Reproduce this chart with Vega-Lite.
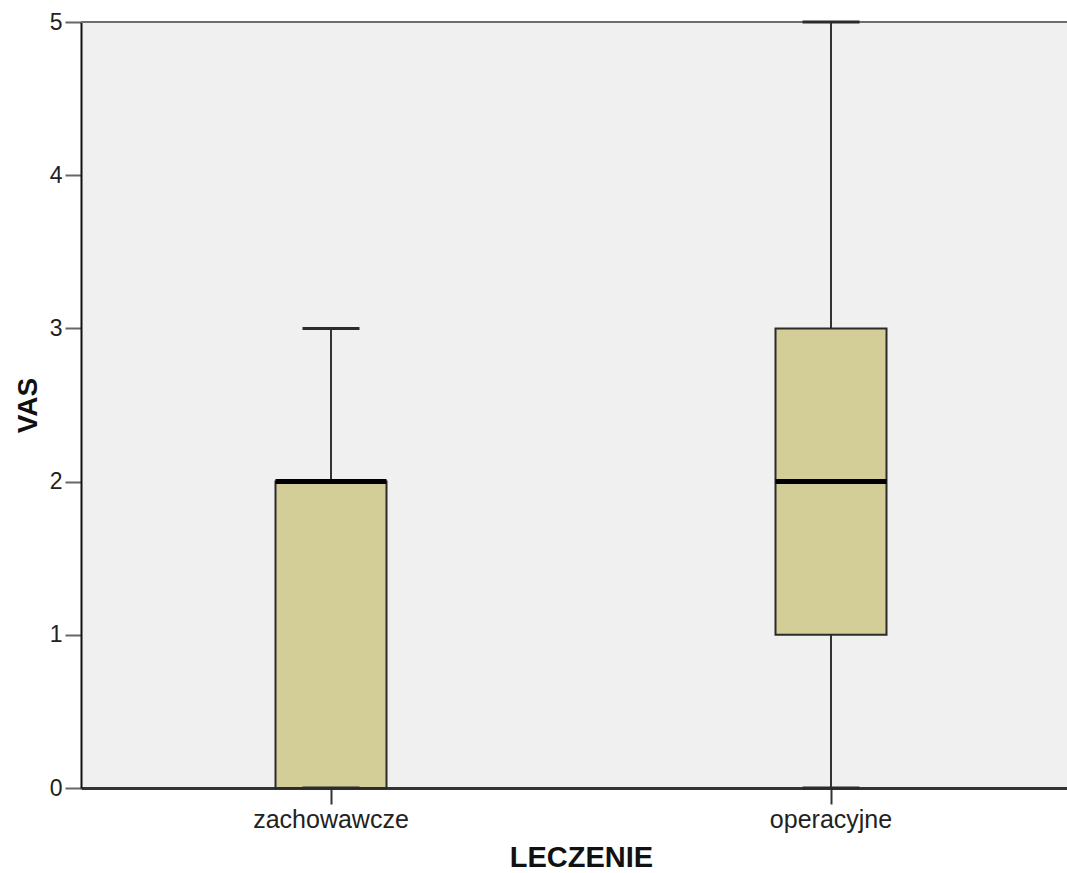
{
  "$schema": "https://vega.github.io/schema/vega-lite/v6.json",
  "autosize": {"type": "none"},
  "padding": {"left": 81, "top": 22, "right": 0, "bottom": 85},
  "width": 986,
  "height": 766,
  "background": "#ffffff",
  "config": {
    "view": {"fill": "#f0f0f0", "stroke": null},
    "font": "Liberation Sans"
  },
  "data": {
    "values": [
      {"LECZENIE": "zachowawcze", "min": 0, "q1": 0, "median": 2, "q3": 2, "max": 3},
      {"LECZENIE": "operacyjne", "min": 0, "q1": 1, "median": 2, "q3": 3, "max": 5}
    ]
  },
  "layer": [
    {
      "mark": {"type": "rule", "color": "#6e6e6e", "strokeWidth": 2},
      "encoding": {
        "y": {
          "datum": 5,
          "type": "quantitative",
          "scale": {"domain": [0, 5], "nice": false},
          "axis": {
            "title": "VAS",
            "values": [0, 1, 2, 3, 4, 5],
            "format": "d",
            "grid": false,
            "labelFont": "Liberation Sans",
            "labelFontSize": 23,
            "labelColor": "#222222",
            "labelPadding": 3,
            "tickSize": 16,
            "tickWidth": 2,
            "tickColor": "#666666",
            "domainColor": "#111111",
            "domainWidth": 2,
            "titleFont": "Liberation Sans",
            "titleFontSize": 28,
            "titleFontWeight": "bold",
            "titleColor": "#111111",
            "titlePadding": 7
          }
        }
      }
    },
    {
      "encoding": {
        "x": {
          "field": "LECZENIE",
          "type": "nominal",
          "sort": ["zachowawcze", "operacyjne"],
          "scale": {"range": [0, 1000], "paddingInner": 0, "paddingOuter": 0},
          "axis": {
            "title": "LECZENIE",
            "labelAngle": 0,
            "labelFont": "Liberation Sans",
            "labelFontSize": 25,
            "labelColor": "#222222",
            "labelPadding": 3,
            "tickSize": 16,
            "tickWidth": 2,
            "tickColor": "#333333",
            "domainColor": "#333333",
            "domainWidth": 3,
            "titleFont": "Liberation Sans",
            "titleFontSize": 29,
            "titleFontWeight": "bold",
            "titleColor": "#111111",
            "titlePadding": 11
          }
        }
      },
      "layer": [
        {
          "mark": {"type": "rule", "color": "#333333", "strokeWidth": 2},
          "encoding": {
            "y": {"field": "min", "type": "quantitative"},
            "y2": {"field": "max"}
          }
        },
        {
          "mark": {"type": "bar", "width": 111, "fill": "#d3ce97", "stroke": "#2b2b2b", "strokeWidth": 2},
          "encoding": {
            "y": {"field": "q1", "type": "quantitative"},
            "y2": {"field": "q3"}
          }
        },
        {
          "mark": {"type": "tick", "color": "#000000", "size": 111, "thickness": 5, "opacity": 1},
          "encoding": {"y": {"field": "median", "type": "quantitative"}}
        },
        {
          "mark": {"type": "tick", "color": "#2b2b2b", "size": 57, "thickness": 3, "opacity": 1},
          "encoding": {"y": {"field": "min", "type": "quantitative"}}
        },
        {
          "mark": {"type": "tick", "color": "#2b2b2b", "size": 57, "thickness": 3, "opacity": 1},
          "encoding": {"y": {"field": "max", "type": "quantitative"}}
        }
      ]
    }
  ]
}
